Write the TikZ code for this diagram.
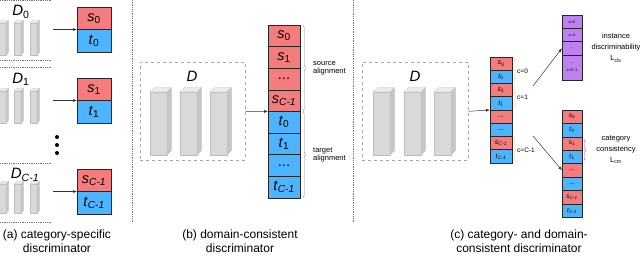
\documentclass[tikz,border=0pt]{standalone}
\usepackage{fontspec}
\setmainfont{Liberation Sans}
\usetikzlibrary{positioning, arrows.meta, decorations.pathreplacing}

\definecolor{srcred}{HTML}{F47C7C}
\definecolor{tgtblue}{HTML}{4DB5FF}
\definecolor{insviolet}{HTML}{BF80F2}
\definecolor{slabfront}{HTML}{D9D9D9}
\definecolor{slabtop}{HTML}{EBEBEB}
\definecolor{slabside}{HTML}{C6C6C6}
\definecolor{slabedge}{HTML}{BDBDBD}
\definecolor{braceyellow}{HTML}{F2D27A}

\newcommand{\lbl}[2]{\textit{#1}\textsubscript{#2}}
\newcommand{\lastidx}{\textit{C-1}}
% x, top of front face, width, height, depth
\newcommand{\slab}[5]{%
  \filldraw[fill=slabfront, draw=slabedge, line width=0.3pt] (#1,#2) rectangle ++(#3,#4);
  \filldraw[fill=slabtop, draw=slabedge, line width=0.3pt] (#1,#2) -- ++(#5,-#5) -- ++(#3,0) -- ++(-#5,#5) -- cycle;
  \filldraw[fill=slabside, draw=slabedge, line width=0.3pt] (#1+#3,#2) -- ++(#5,-#5) -- ++(0,#4) -- ++(-#5,#5) -- cycle;
}

\begin{document}
\begin{tikzpicture}[
    x=1pt, y=-1pt,
    >={Latex[length=4pt, width=3pt]},
    arrow/.style={
        ->,
        line width=0.5pt,
        draw=black!80
    },
    cell/.style={
        rectangle,
        draw=black!85,
        line width=0.6pt,
        inner sep=0pt,
        outer sep=0pt,
        font=\fontsize{14.5}{14.5}\selectfont
    },
    scell/.style={cell, fill=srcred},
    tcell/.style={cell, fill=tgtblue},
    vcell/.style={cell, fill=insviolet, minimum width=20pt, minimum height=13.3pt,
        font=\fontsize{4}{4.5}\selectfont, align=center},
    cola/.style={minimum width=34pt, minimum height=22.5pt},
    colb/.style={minimum width=32pt, minimum height=21.6pt},
    colc/.style={minimum width=22pt, minimum height=13.25pt, font=\fontsize{7}{7}\selectfont},
    cold/.style={minimum width=20pt, minimum height=13.4pt, font=\fontsize{6.5}{6.5}\selectfont},
    dlabel/.style={font=\fontsize{15}{15}\selectfont, inner sep=0pt},
    dbox/.style={
        rectangle,
        draw=black!35,
        dashed,
        line width=0.6pt,
        inner sep=0pt
    },
    sep/.style={draw=black!55, densely dotted, line width=0.8pt},
    brace/.style={decorate, decoration={brace, amplitude=2.5pt}, draw=black!45, line width=0.4pt},
    tinybrace/.style={decorate, decoration={brace, amplitude=1.5pt}, draw=braceyellow, line width=0.5pt},
    note/.style={font=\fontsize{7.5}{8}\selectfont, align=left, inner sep=0pt},
    loss/.style={font=\fontsize{7.5}{11}\selectfont, align=center, inner sep=0pt},
    caption/.style={font=\fontsize{12}{14}\selectfont, align=center, inner sep=0pt}
]
\useasboundingbox (0,0) rectangle (640,255);

    % --- (a) category-specific ---
    \draw[sep] (0,0.5) -- (52,0.5);
    \draw[sep] (0,60) -- (52,60);
    \draw[sep] (0,67) -- (52,67);
    \draw[sep] (0,163) -- (52,163);
    \draw[sep] (0,222) -- (52,222);

    \slab{-1}{23}{7}{32}{2.5}
    \slab{14}{23}{7}{32}{2.5}
    \slab{30}{23}{7}{32}{2.5}
    \slab{-1}{91}{7}{32}{2.5}
    \slab{14}{91}{7}{32}{2.5}
    \slab{30}{91}{7}{32}{2.5}
    \slab{-1}{184}{7}{29}{2.5}
    \slab{14}{184}{7}{29}{2.5}
    \slab{30}{184}{7}{29}{2.5}

    \node[dlabel] (d0) at (21,12) {\lbl{D}{0}};
    \node[dlabel] (d1) at (21,79) {\lbl{D}{1}};
    \node[dlabel] (dc) at (25,175) {\lbl{D}{\lastidx}};

    \node[scell, cola, anchor=north west] (a0s) at (77,7) {\lbl{s}{0}};
    \node[tcell, cola, below=0pt of a0s] (a0t) {\lbl{t}{0}};
    \node[scell, cola, anchor=north west] (a1s) at (77,78) {\lbl{s}{1}};
    \node[tcell, cola, below=0pt of a1s] (a1t) {\lbl{t}{1}};
    \node[scell, cola, anchor=north west] (acs) at (77,169) {\lbl{s}{\lastidx}};
    \node[tcell, cola, below=0pt of acs] (act) {\lbl{t}{\lastidx}};

    \coordinate (g0) at (53,0 |- a0t.north);
    \coordinate (g1) at (53,0 |- a1t.north);
    \coordinate (gc) at (53,0 |- act.north);
    \draw[arrow] (g0) -- (a0t.north west);
    \draw[arrow] (g1) -- (a1t.north west);
    \draw[arrow] (gc) -- (act.north west);

    \foreach \yy in {137,145,153}
        \fill (57,\yy) circle (2pt);

    \node[caption] (capa) at (57,241) {(a) category-specific\\discriminator};

    \draw[sep] (132,0) -- (132,222);

    % --- (b) domain-consistent ---
    \node[dbox, minimum width=105pt, minimum height=98pt, anchor=north west] (boxb) at (140,62) {};
    \node[dlabel, font=\fontsize{15}{15}\selectfont\itshape] (db) at (192,76) {D};
    \slab{150}{92}{17}{63}{4.5}
    \slab{180}{92}{17}{63}{4.5}
    \slab{210}{92}{17}{63}{4.5}

    \node[scell, colb, anchor=north west] (b0) at (268,25) {\lbl{s}{0}};
    \node[scell, colb, below=0pt of b0] (b1) {\lbl{s}{1}};
    \node[scell, colb, below=0pt of b1] (b2) {...};
    \node[scell, colb, below=0pt of b2] (b3) {\lbl{s}{\lastidx}};
    \node[tcell, colb, below=0pt of b3] (b4) {\lbl{t}{0}};
    \node[tcell, colb, below=0pt of b4] (b5) {\lbl{t}{1}};
    \node[tcell, colb, below=0pt of b5] (b6) {...};
    \node[tcell, colb, below=0pt of b6] (b7) {\lbl{t}{\lastidx}};

    \draw[arrow] (boxb.east) -- (b4.north west);

    \draw[brace] ([xshift=3pt]b0.north east) -- ([xshift=3pt]b3.south east);
    \draw[brace] ([xshift=3pt]b4.north east) -- ([xshift=3pt]b7.south east);
    \node[note, anchor=west] (srcnote) at (313,68) {source\\alignment};
    \node[note, anchor=west] (tgtnote) at (313,155) {target\\alignment};

    \node[caption] (capb) at (240,241) {(b) domain-consistent\\discriminator};

    \draw[sep] (353,0) -- (353,222);

    % --- (c) category- and domain-consistent ---
    \node[dbox, minimum width=106pt, minimum height=98pt, anchor=north west] (boxc) at (362,62) {};
    \node[dlabel, font=\fontsize{15}{15}\selectfont\itshape] (dd) at (415,76) {D};
    \slab{373}{92}{17}{63}{4.5}
    \slab{404}{92}{17}{63}{4.5}
    \slab{434}{92}{17}{63}{4.5}

    \node[scell, colc, anchor=north west] (c0) at (490,57) {\lbl{s}{0}};
    \node[tcell, colc, below=0pt of c0] (c1) {\lbl{t}{0}};
    \node[scell, colc, below=0pt of c1] (c2) {\lbl{s}{1}};
    \node[tcell, colc, below=0pt of c2] (c3) {\lbl{t}{1}};
    \node[scell, colc, below=0pt of c3] (c4) {...};
    \node[tcell, colc, below=0pt of c4] (c5) {...};
    \node[scell, colc, below=0pt of c5] (c6) {\lbl{s}{\lastidx}};
    \node[tcell, colc, below=0pt of c6] (c7) {\lbl{t}{\lastidx}};

    \draw[arrow] (boxc.east) -- (c4.north west);

    \draw[tinybrace] ([xshift=2pt, yshift=-2pt]c0.north east) -- ([xshift=2pt, yshift=2pt]c1.south east);
    \draw[tinybrace] ([xshift=2pt, yshift=-2pt]c2.north east) -- ([xshift=2pt, yshift=2pt]c3.south east);
    \draw[tinybrace] ([xshift=2pt, yshift=-2pt]c6.north east) -- ([xshift=2pt, yshift=2pt]c7.south east);
    \node[note, font=\fontsize{6.5}{6.5}\selectfont, anchor=west] (k0) at (517,71) {c=0};
    \node[note, font=\fontsize{6.5}{6.5}\selectfont, anchor=west] (k1) at (517,97) {c=1};
    \node[note, font=\fontsize{6.5}{6.5}\selectfont, anchor=west] (kc) at (517,150) {c=C-1};

    % instance branch
    \node[vcell, anchor=north west] (p0) at (562,15) {c=0};
    \node[vcell, below=0pt of p0] (p1) {c=1};
    \node[vcell, below=0pt of p1] (p2) {...};
    \node[vcell, below=0pt of p2, minimum height=25pt] (p3) {...\\[3pt]c=C-1};
    \coordinate (upstart) at (533,86);
    \draw[arrow] (upstart) -- (p2.west);
    \node[loss] (inst) at (616,48) {instance\\discriminability\\L\textsubscript{cls}};

    % category branch
    \node[scell, cold, anchor=north west] (q0) at (562,110) {\lbl{s}{0}};
    \node[tcell, cold, below=0pt of q0] (q1) {\lbl{t}{0}};
    \node[scell, cold, below=0pt of q1] (q2) {\lbl{s}{1}};
    \node[tcell, cold, below=0pt of q2] (q3) {\lbl{t}{1}};
    \node[scell, cold, below=0pt of q3] (q4) {...};
    \node[tcell, cold, below=0pt of q4] (q5) {...};
    \node[scell, cold, below=0pt of q5] (q6) {\lbl{s}{\lastidx}};
    \node[tcell, cold, below=0pt of q6] (q7) {\lbl{t}{\lastidx}};
    \coordinate (downstart) at (533,136);
    \draw[arrow] (downstart) -- (q4.west);
    \draw[tinybrace, draw=violet!70] ([xshift=2pt, yshift=-3pt]q2.north east) -- ([xshift=2pt, yshift=3pt]q3.south east);
    \node[loss] (catc) at (616,150) {category\\consistency\\L\textsubscript{cm}};

    \node[caption] (capc) at (519,241) {(c) category- and domain-\\consistent discriminator};

\end{tikzpicture}
\end{document}
